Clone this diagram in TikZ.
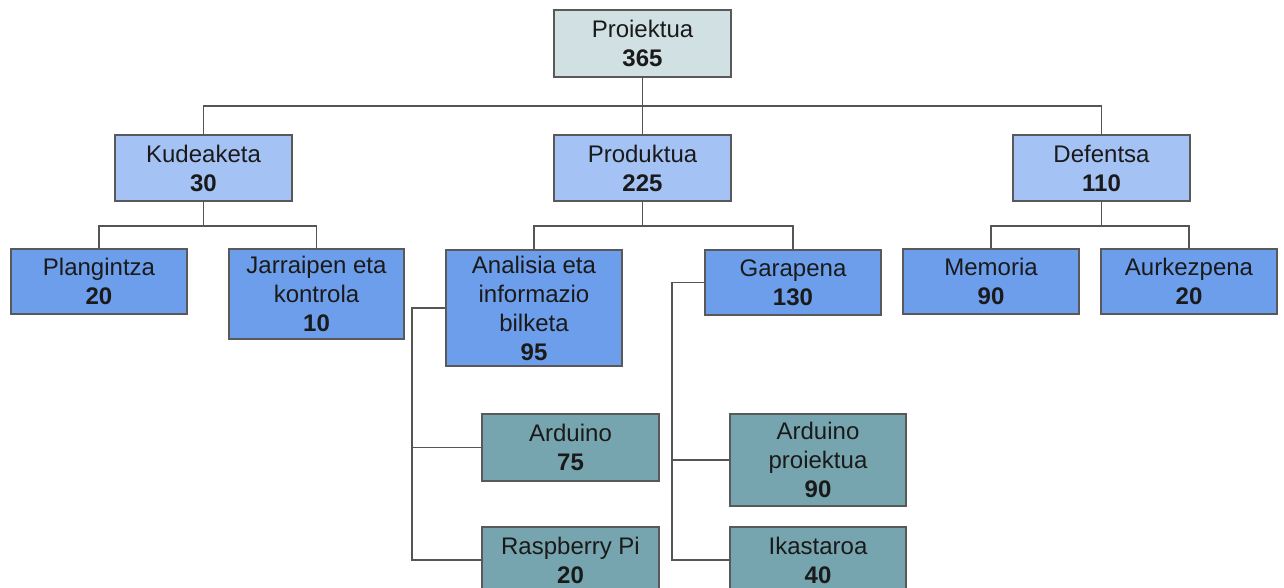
\documentclass[tikz,border=0pt]{standalone}
\usepackage{fontspec}
\setmainfont{Liberation Sans}
\definecolor{toplvl}{HTML}{D0E0E3}
\definecolor{lvltwo}{HTML}{A4C2F4}
\definecolor{lvlthree}{HTML}{6D9EEB}
\definecolor{lvlfour}{HTML}{76A5AF}
\definecolor{edgegray}{HTML}{595959}
\definecolor{linegray}{HTML}{555555}
\definecolor{txt}{HTML}{1A1A1A}
\tikzset{
  box/.style={draw=edgegray, line width=1.8pt, rectangle, inner sep=0pt,
    minimum width=176pt, align=center, text=txt,
    font=\fontsize{24}{29}\selectfont},
  conn/.style={draw=linegray, line width=1.8pt},
}
\newcommand{\nb}[1]{\textbf{#1}}
\begin{document}
\begin{tikzpicture}[x=1pt,y=-1pt]
\useasboundingbox (0,0) rectangle (1284,587);
\clip (0,0) rectangle (1284,587);
\fill[white] (0,0) rectangle (1284,587);
% level 1
\node[box, fill=toplvl, minimum height=67pt, minimum width=177pt] (P) at (642.5,43.5) {Proiektua\\\nb{365}};
% level 2
\node[box, fill=lvltwo, minimum height=66pt, minimum width=177pt] (K) at (203.5,168) {Kudeaketa\\\nb{30}};
\node[box, fill=lvltwo, minimum height=66pt, minimum width=177pt] (Pr) at (642.5,168) {Produktua\\\nb{225}};
\node[box, fill=lvltwo, minimum height=66pt, minimum width=177pt] (D) at (1101.5,168) {Defentsa\\\nb{110}};
% level 3
\node[box, fill=lvlthree, minimum height=65pt] (Pl) at (99,281.5) {Plangintza\\\nb{20}};
\node[box, fill=lvlthree, minimum height=90pt, minimum width=175pt] (J) at (316.5,294) {Jarraipen eta\\kontrola\\\nb{10}};
\node[box, fill=lvlthree, minimum height=116pt] (A) at (534,308) {Analisia eta\\informazio\\bilketa\\\nb{95}};
\node[box, fill=lvlthree, minimum height=65pt] (G) at (793,282.5) {Garapena\\\nb{130}};
\node[box, fill=lvlthree, minimum height=65pt] (M) at (991,281.5) {Memoria\\\nb{90}};
\node[box, fill=lvlthree, minimum height=65pt] (Au) at (1189,281.5) {Aurkezpena\\\nb{20}};
% level 4
\node[box, fill=lvlfour, minimum height=67pt, minimum width=177pt] (Ar) at (570.5,447.5) {Arduino\\\nb{75}};
\node[box, fill=lvlfour, minimum height=66pt, minimum width=177pt] (R) at (570.5,560) {Raspberry Pi\\\nb{20}};
\node[box, fill=lvlfour, minimum height=92pt] (AP) at (818,460) {Arduino\\proiektua\\\nb{90}};
\node[box, fill=lvlfour, minimum height=66pt] (I) at (818,560) {Ikastaroa\\\nb{40}};
% connectors
\draw[conn] (P.south) -- ++(0,28) -| (K.north);
\draw[conn] (P.south) -- ++(0,28) -| (Pr.north);
\draw[conn] (P.south) -- ++(0,28) -| (D.north);
\draw[conn] (K.south) -- ++(0,24) -| (Pl.north);
\draw[conn] (K.south) -- ++(0,24) -| (J.north);
\draw[conn] (Pr.south) -- ++(0,24) -| (A.north);
\draw[conn] (Pr.south) -- ++(0,24) -| (G.north);
\draw[conn] (D.south) -- ++(0,24) -| (M.north);
\draw[conn] (D.south) -- ++(0,24) -| (Au.north);
\draw[conn] (A.west) -- ++(-33,0) |- (Ar.west);
\draw[conn] (A.west) -- ++(-33,0) |- (R.west);
\draw[conn] (G.west) -- ++(-32,0) |- (AP.west);
\draw[conn] (G.west) -- ++(-32,0) |- (I.west);
\end{tikzpicture}
\end{document}
